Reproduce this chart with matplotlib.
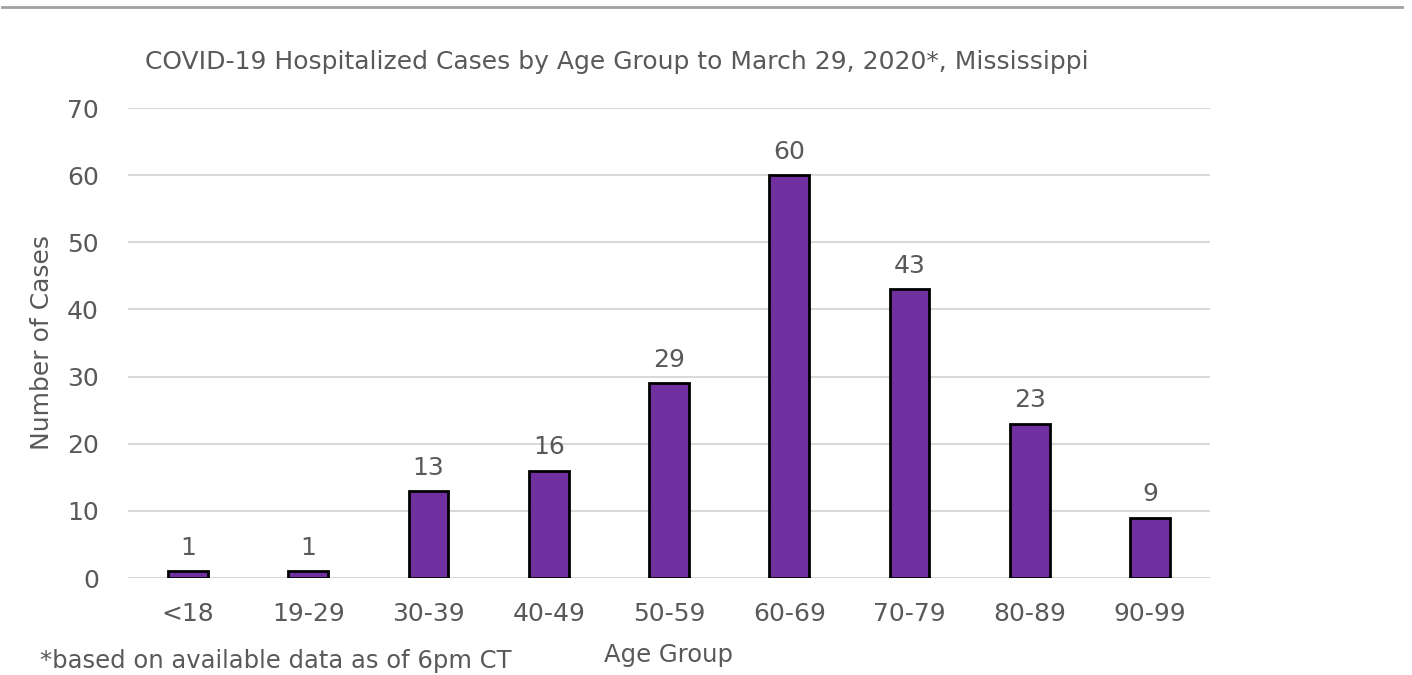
import matplotlib
matplotlib.use("Agg")
import matplotlib.pyplot as plt
from matplotlib.lines import Line2D

categories = ["<18", "19-29", "30-39", "40-49", "50-59", "60-69", "70-79", "80-89", "90-99"]
cases = [1, 1, 13, 16, 29, 60, 43, 23, 9]
yticks = [0, 10, 20, 30, 40, 50, 60, 70]

title = "COVID-19 Hospitalized Cases by Age Group to March 29, 2020*, Mississippi"
footnote = "*based on available data as of 6pm CT"

plt.rcParams['font.family'] = ['DejaVu Sans']
txt = "#595959"
fs = 18

fig = plt.figure(figsize=(14.12, 6.75), dpi=100)
ax = fig.add_axes([128/1412, 97/675, 1082/1412, 470/675])

x = list(range(len(categories)))
ax.bar(x, cases, width=0.33, color="#7030A0", edgecolor="black", linewidth=2, zorder=3)
for xi, v in zip(x, cases):
    ax.annotate(str(v), (xi, v), xytext=(0, 8), textcoords="offset points",
                ha="center", va="bottom", fontsize=fs, color=txt)

ax.set_xlim(-0.5, len(categories) - 0.5)
ax.set_ylim(0, 70)
ax.set_yticks(yticks)
ax.set_xticks(x)
ax.set_xticklabels(categories)
ax.tick_params(axis="both", length=0, labelsize=fs, labelcolor=txt)
ax.tick_params(axis="x", pad=17)
ax.tick_params(axis="y", pad=21)
ax.grid(axis="y", color="#d9d9d9", linewidth=1.5, zorder=0)
for s in ax.spines.values():
    s.set_visible(False)

fig.text(42/1412, 1 - 343/675, "Number of Cases", rotation=90, ha="center", va="center",
         fontsize=fs, color=txt)
fig.text(617/1412, 1 - 62/675, title, ha="center", va="center", fontsize=fs, color=txt)
fig.text(668/1412, 1 - 655/675, "Age Group", ha="center", va="center", fontsize=17.5, color=txt)
fig.text(40/1412, 1 - 661/675, footnote, ha="left", va="center", fontsize=17.5, color=txt)

fig.add_artist(Line2D([2/1412, 1402/1412], [1 - 7/675, 1 - 7/675], color="#a0a0a0", linewidth=2,
                      transform=fig.transFigure))

fig.savefig("out.png", dpi=100)
